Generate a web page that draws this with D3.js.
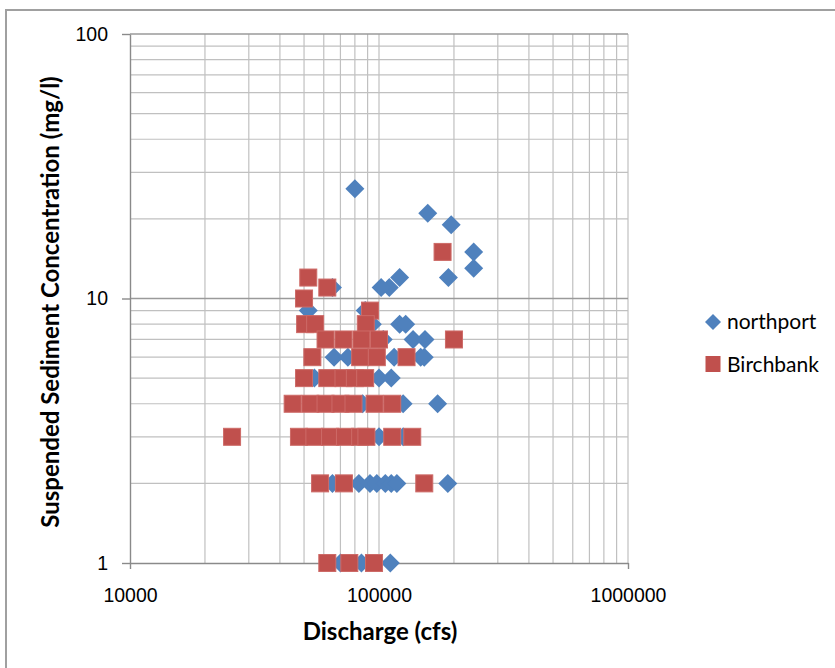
<!DOCTYPE html>
<html>
<head>
<meta charset="utf-8">
<script src="https://cdn.jsdelivr.net/npm/d3@7"></script>
<style>
  body { margin: 0; background: #fff; }
  svg { display: block; font-family: Lato, "Liberation Sans", sans-serif; }
</style>
</head>
<body>
<div class="vis"></div>
<script>
// northport samples: discharge (cfs) and concentration (mg/l)
const northportQ = [80000, 157000, 195000, 240000, 240000, 190000, 121000, 110000, 102000, 65000,
    52000, 88000,
    121000, 128000, 94000,
    137000, 153000, 104000,
    66000, 75000, 115000, 147000, 152000,
    55000, 100000, 112000,
    86000, 125000, 172000,
    100000, 125000,
    65000, 83000, 92000, 98000, 106000, 112000, 118000, 189000,
    70000, 85000, 111000]
const northportC = [26, 21, 19, 15, 13, 12, 12, 11, 11, 11,
    9, 9,
    8, 8, 8,
    7, 7, 7,
    6, 6, 6, 6, 6,
    5, 5, 5,
    4, 4, 4,
    3, 3,
    2, 2, 2, 2, 2, 2, 2, 2,
    1, 1, 1]

// Birchbank samples
const birchbankQ = [180000, 52000, 62000, 50000, 92000,
    50500, 55400, 88500,
    61000, 72000, 85000, 100000, 200000,
    54000, 84000, 98000, 129000,
    50000, 62000, 72000, 80000, 88000,
    45000, 53000, 61000, 70000, 79000, 96000, 113000,
    25700, 47700, 55000, 63600, 73000, 84000, 89000, 113000, 136000,
    58000, 72300, 152000,
    62000, 76000, 95500]
const birchbankC = [15, 12, 11, 10, 9,
    8, 8, 8,
    7, 7, 7, 7, 7,
    6, 6, 6, 6,
    5, 5, 5, 5, 5,
    4, 4, 4, 4, 4, 4, 4,
    3, 3, 3, 3, 3, 3, 3, 3, 3,
    2, 2, 2,
    1, 1, 1]

const xTicks = [10000, 100000, 1000000]
const yTicks = [1, 10, 100]
const seriesNames = ["northport", "Birchbank"]
const colors = ["#4F81BD", "#C0504D"]

const W = 835, H = 668
const plotL = 130, plotR = 628, plotT = 34, plotB = 563

const svg = d3.select(".vis").append("svg").attr("width", W).attr("height", H)

// outer chart frame
svg.append("rect")
    .attr("x", 6).attr("y", 10)
    .attr("width", W + 10).attr("height", H + 10)
    .attr("fill", "none").attr("stroke", "#a0a0a0").attr("stroke-width", 2)

const x = d3.scaleLog().domain([1e4, 1e6]).range([plotL, plotR])
const y = d3.scaleLog().domain([1, 100]).range([plotB, plotT])

// minor log grid: 2..9 times each decade
const minor = decades => decades.flatMap(d => d3.range(2, 10).map(k => k * d))
const xGrid = minor([1e4, 1e5]).concat([1e5, 1e6])
const yGrid = minor([1, 10])

const grid = svg.append("g").attr("class", "grid")
grid.selectAll("line.v").data(xGrid).join("line")
    .attr("class", "v")
    .attr("x1", d => x(d)).attr("x2", d => x(d))
    .attr("y1", plotT).attr("y2", plotB)
    .attr("stroke", "#c0c0c0").attr("stroke-width", 1.2)
grid.selectAll("line.h").data(yGrid).join("line")
    .attr("class", "h")
    .attr("x1", plotL).attr("x2", plotR)
    .attr("y1", d => y(d)).attr("y2", d => y(d))
    .attr("stroke", "#c0c0c0").attr("stroke-width", 1.2)
grid.selectAll("line.major").data([10, 100]).join("line")
    .attr("class", "major")
    .attr("x1", plotL).attr("x2", plotR)
    .attr("y1", d => y(d)).attr("y2", d => y(d))
    .attr("stroke", "#9a9a9a").attr("stroke-width", 1.4)

const styleAxis = g => {
    g.select(".domain").attr("stroke", "#8a8a8a").attr("stroke-width", 1.4)
    g.selectAll(".tick line").attr("stroke", "#8a8a8a").attr("stroke-width", 1.4)
    g.selectAll(".tick text").attr("fill", "#000").style("font-size", "19.5px")
}

svg.append("g")
    .attr("class", "y axis")
    .attr("transform", `translate(${plotL},0)`)
    .call(d3.axisLeft(y).tickValues(yTicks).tickFormat(d3.format("d")).tickSize(8).tickSizeOuter(0).tickPadding(14))
    .call(styleAxis)

svg.append("g")
    .attr("class", "x axis")
    .attr("transform", `translate(0,${plotB})`)
    .call(d3.axisBottom(x).tickValues(xTicks).tickFormat(d3.format("d")).tickSize(6).tickSizeOuter(0).tickPadding(19))
    .call(styleAxis)

// markers
const diamond = r => `M0,${-r}L${r},0L0,${r}L${-r},0Z`

svg.append("g").selectAll("path")
    .data(d3.zip(northportQ, northportC)).join("path")
    .attr("transform", d => `translate(${x(d[0])},${y(d[1])})`)
    .attr("d", diamond(9.5))
    .attr("fill", colors[0])

svg.append("g").selectAll("rect")
    .data(d3.zip(birchbankQ, birchbankC)).join("rect")
    .attr("x", d => x(d[0]) - 8.5).attr("y", d => y(d[1]) - 8.5)
    .attr("width", 17).attr("height", 17)
    .attr("fill", colors[1])
    .attr("stroke", "#cd6a67").attr("stroke-width", 1)

// axis titles
svg.append("text")
    .attr("x", 380).attr("y", 640)
    .attr("text-anchor", "middle")
    .style("font-size", "24px").style("font-weight", "bold")
    .text("Discharge (cfs)")

svg.append("text")
    .attr("transform", "translate(59,302) rotate(-90)")
    .attr("text-anchor", "middle")
    .style("font-size", "24px").style("font-weight", "bold")
    .text("Suspended Sediment Concentration (mg/l)")

// legend
const legend = svg.append("g").attr("transform", "translate(713,322)")
legend.append("path").attr("d", diamond(8)).attr("fill", colors[0])
legend.append("rect").attr("x", -7.5).attr("y", 34).attr("width", 15).attr("height", 16).attr("fill", colors[1])
legend.selectAll("text").data(seriesNames).join("text")
    .attr("x", 14).attr("y", (d, i) => 7 + i * 43)
    .style("font-size", "21px")
    .text(d => d)
</script>
</body>
</html>
